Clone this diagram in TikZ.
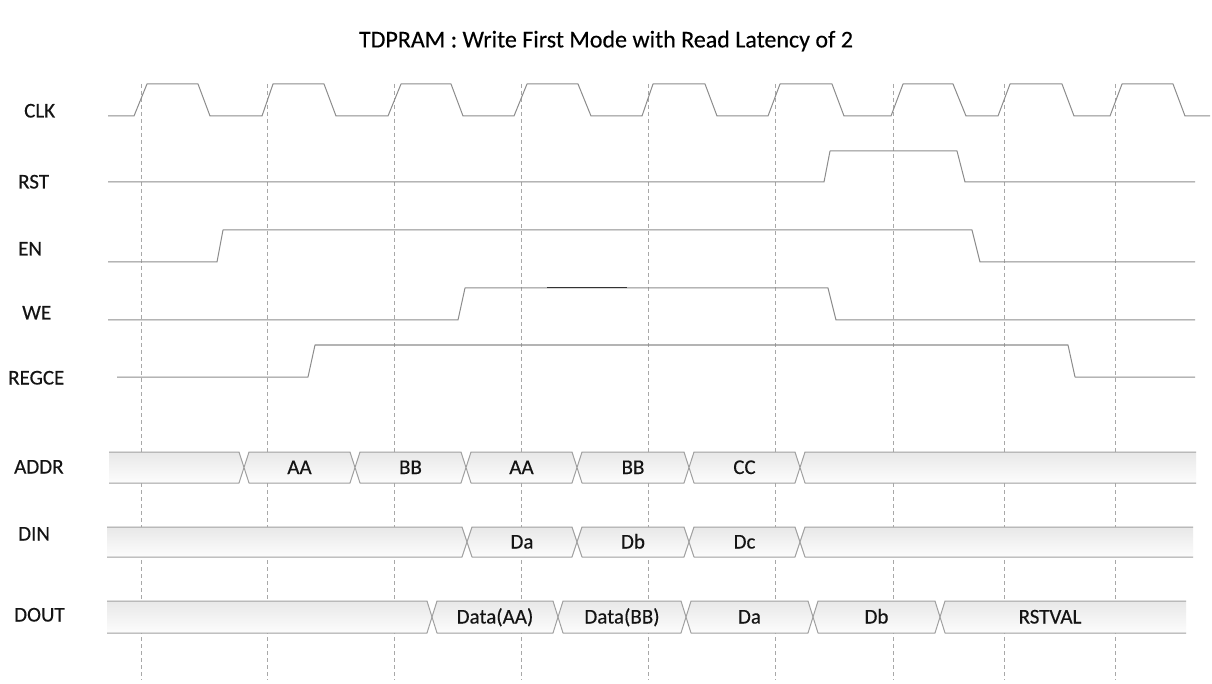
\documentclass[tikz,border=0pt]{standalone}
\usepackage{fontspec}
\setmainfont{Carlito}
\usetikzlibrary{calc}
\definecolor{sig}{HTML}{8C8C8C}
\definecolor{busline}{HTML}{A0A0A0}
\definecolor{grid}{HTML}{A8A8A8}
\definecolor{txt}{HTML}{141414}
\tikzset{
  sigline/.style={draw=sig, line width=1pt, line join=round},
  gridline/.style={draw=grid, line width=0.9pt, dash pattern=on 4pt off 3pt},
  busfill/.style={top color=black!9, bottom color=black!1, draw=none},
  busedge/.style={draw=busline, line width=1pt, line join=round},
  lbl/.style={font=\fontsize{21}{24}\selectfont\addfontfeature{FakeBold=0.3}, text=txt, anchor=west, inner sep=0pt, text height=13pt, text depth=0pt},
  blbl/.style={font=\fontsize{21}{24}\selectfont\addfontfeature{FakeBold=0.3}, text=txt, inner sep=0pt, text height=13pt, text depth=0pt},
  ttl/.style={font=\fontsize{24}{28}\selectfont\addfontfeature{FakeBold=0.3}, text=black, inner sep=0pt}
}
\begin{document}
\begin{tikzpicture}[x=1pt,y=-1pt]
\useasboundingbox (0,0) rectangle (1212,684);
\fill[white] (0,0) rectangle (1212,684);

% title
\node[ttl] (title) at (606,41) {TDPRAM : Write First Mode with Read Latency of 2};

% dashed clock reference lines
\foreach \x in {141,267,394,521,648,775,893,1004,1115}{
  \draw[gridline] (\x,84) -- (\x,680);
}

% labels
\node[lbl] (lclk) at (24,111) {CLK};
\node[lbl] (lrst) at (18,182) {RST};
\node[lbl] (len) at (18,249) {EN};
\node[lbl] (lwe) at (22,313) {WE};
\node[lbl] (lregce) at (8,378) {REGCE};
\node[lbl] (laddr) at (14,467) {ADDR};
\node[lbl] (ldin) at (18,534) {DIN};
\node[lbl] (ldout) at (14,615) {DOUT};

% CLK
\draw[sigline] (108,116) -- (134,116) -- (147,84) -- (198,84) -- (210,116)
  -- (262,116) -- (273,84) -- (324,84) -- (336,116)
  -- (388,116) -- (401,84) -- (451,84) -- (463,116)
  -- (514,116) -- (527,84) -- (578,84) -- (591,116)
  -- (642,116) -- (653,84) -- (705,84) -- (717,116)
  -- (768,116) -- (780,84) -- (832,84) -- (844,116)
  -- (891,116) -- (903,84) -- (953,84) -- (966,116)
  -- (998,116) -- (1010,84) -- (1062,84) -- (1074,116)
  -- (1110,116) -- (1122,84) -- (1173,84) -- (1185,116) -- (1210,116);

% RST
\draw[sigline] (108,182) -- (824,182) -- (830,151) -- (957,151) -- (965,182) -- (1195,182);
% EN
\draw[sigline] (108,262) -- (217,262) -- (223,230) -- (972,230) -- (980,262) -- (1195,262);
% WE
\draw[sigline] (108,320) -- (458,320) -- (465,288) -- (828,288) -- (836,320) -- (1195,320);
\draw[black!80, line width=1pt] (547,288) -- (627,288);
% REGCE
\draw[sigline] (117,377) -- (308,377) -- (315,345) -- (1068,345) -- (1075,377) -- (1195,377);

% ---- bus rows ----
% ADDR: top 452 bot 483
\def\T{452}\def\B{483}\def\M{467.5}
\shade[busfill] (109,\T) -- (239,\T) -- (244,\M) -- (239,\B) -- (109,\B) -- cycle;
\draw[busedge] (109,\T) -- (239,\T) -- (244,\M) -- (239,\B) -- (109,\B);
\foreach \a/\b in {244/355,355/466,466/577,577/689,689/800}{
  \shade[busfill] (\a,\M) -- (\a+5,\T) -- (\b-5,\T) -- (\b,\M) -- (\b-5,\B) -- (\a+5,\B) -- cycle;
  \draw[busedge] (\a,\M) -- (\a+5,\T) -- (\b-5,\T) -- (\b,\M) -- (\b-5,\B) -- (\a+5,\B) -- cycle;
}
\shade[busfill] (800,\M) -- (805,\T) -- (1196,\T) -- (1196,\B) -- (805,\B) -- cycle;
\draw[busedge] (1196,\T) -- (805,\T) -- (800,\M) -- (805,\B) -- (1196,\B);
\node[blbl] (a1) at (299.5,\M) {AA};
\node[blbl] (a2) at (410.5,\M) {BB};
\node[blbl] (a3) at (521.5,\M) {AA};
\node[blbl] (a4) at (633,\M) {BB};
\node[blbl] (a5) at (744.5,\M) {CC};

% DIN: top 527 bot 557
\def\T{527}\def\B{557}\def\M{542}
\shade[busfill] (107,\T) -- (462,\T) -- (467,\M) -- (462,\B) -- (107,\B) -- cycle;
\draw[busedge] (107,\T) -- (462,\T) -- (467,\M) -- (462,\B) -- (107,\B);
\foreach \a/\b in {467/577,577/689,689/800}{
  \shade[busfill] (\a,\M) -- (\a+5,\T) -- (\b-5,\T) -- (\b,\M) -- (\b-5,\B) -- (\a+5,\B) -- cycle;
  \draw[busedge] (\a,\M) -- (\a+5,\T) -- (\b-5,\T) -- (\b,\M) -- (\b-5,\B) -- (\a+5,\B) -- cycle;
}
\shade[busfill] (800,\M) -- (805,\T) -- (1193,\T) -- (1193,\B) -- (805,\B) -- cycle;
\draw[busedge] (1193,\T) -- (805,\T) -- (800,\M) -- (805,\B) -- (1193,\B);
\node[blbl] (d1) at (522,\M) {Da};
\node[blbl] (d2) at (633,\M) {Db};
\node[blbl] (d3) at (744.5,\M) {Dc};

% DOUT: top 601 bot 633
\def\T{601}\def\B{633}\def\M{617}
\shade[busfill] (107,\T) -- (427,\T) -- (432,\M) -- (427,\B) -- (107,\B) -- cycle;
\draw[busedge] (107,\T) -- (427,\T) -- (432,\M) -- (427,\B) -- (107,\B);
\foreach \a/\b in {432/558,558/686,686/813,813/940}{
  \shade[busfill] (\a,\M) -- (\a+5,\T) -- (\b-5,\T) -- (\b,\M) -- (\b-5,\B) -- (\a+5,\B) -- cycle;
  \draw[busedge] (\a,\M) -- (\a+5,\T) -- (\b-5,\T) -- (\b,\M) -- (\b-5,\B) -- (\a+5,\B) -- cycle;
}
\shade[busfill] (940,\M) -- (945,\T) -- (1186,\T) -- (1186,\B) -- (945,\B) -- cycle;
\draw[busedge] (1186,\T) -- (945,\T) -- (940,\M) -- (945,\B) -- (1186,\B);
\node[blbl] (o1) at (495,\M) {Data(AA)};
\node[blbl] (o2) at (622,\M) {Data(BB)};
\node[blbl] (o3) at (749.5,\M) {Da};
\node[blbl] (o4) at (876.5,\M) {Db};
\node[blbl] (o5) at (1050,\M) {RSTVAL};
\end{tikzpicture}
\end{document}
